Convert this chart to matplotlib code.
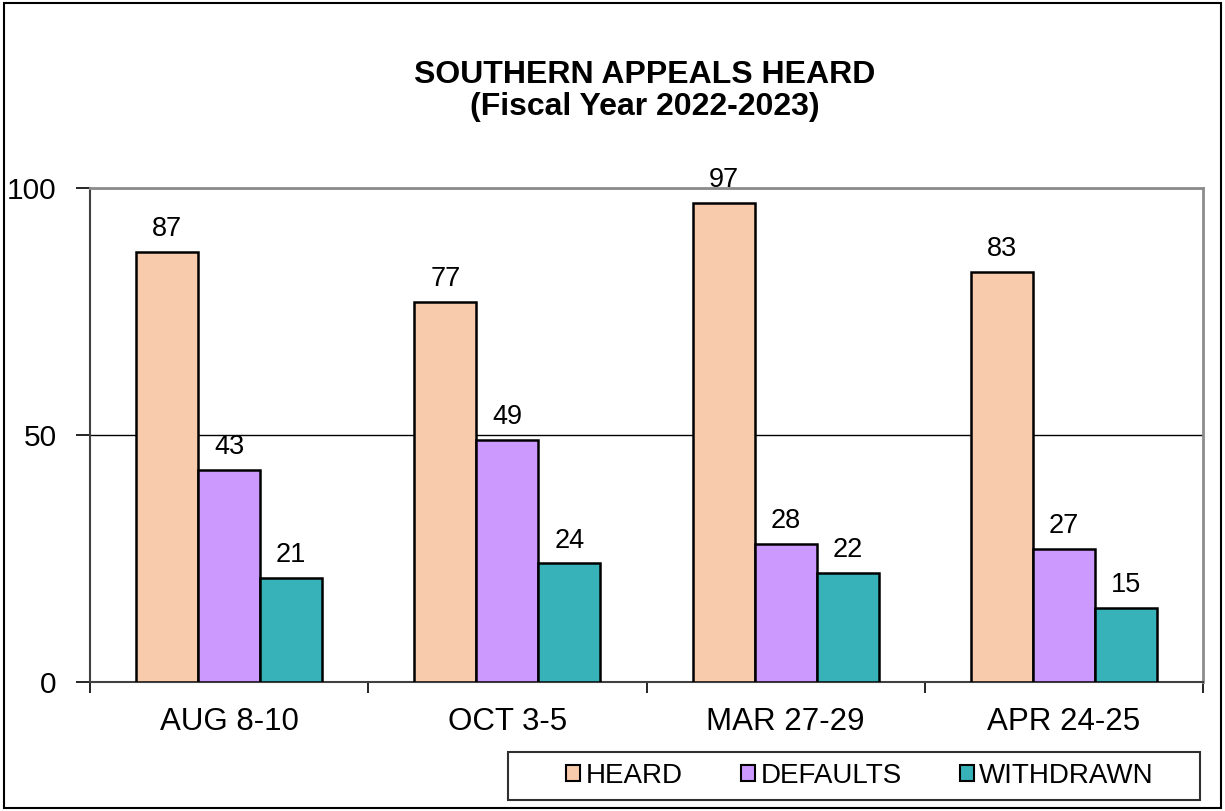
import matplotlib.pyplot as plt
import numpy as np
from matplotlib.patches import Rectangle

plt.rcParams['font.family'] = ['Liberation Sans', 'DejaVu Sans']

categories = ["AUG 8-10", "OCT 3-5", "MAR 27-29", "APR 24-25"]
heard = [87, 77, 97, 83]
defaults = [43, 49, 28, 27]
withdrawn = [21, 24, 22, 15]

series = [("HEARD", heard, "#F8CBAD"),
          ("DEFAULTS", defaults, "#CC99FF"),
          ("WITHDRAWN", withdrawn, "#38B2B9")]

W, H = 1225, 811
fig = plt.figure(figsize=(W / 100, H / 100), dpi=100)
ax = fig.add_axes([90 / W, 1 - 682 / H, (1203 - 90) / W, (682 - 188) / H])

# outer border
fig.patches.append(Rectangle((4 / W, 3 / H), 1 - 8 / W, 1 - 6 / H,
                             transform=fig.transFigure, fill=False,
                             edgecolor="black", linewidth=1.5))

x = np.arange(len(categories))
w = 0.223
for i, (name, vals, col) in enumerate(series):
    pos = x + (i - 1) * w
    bars = ax.bar(pos, vals, w, color=col, edgecolor="black", linewidth=1.8,
                  label=name, zorder=3)
    for b, v in zip(bars, vals):
        ax.text(b.get_x() + b.get_width() / 2, v + 2.0, str(v),
                ha="center", va="bottom", fontsize=19.5)

ax.set_xlim(-0.5, len(categories) - 0.5)
ax.set_ylim(0, 100)
ax.set_yticks([0, 50, 100])
ax.tick_params(axis="y", labelsize=21.5, length=10, width=1.2, pad=14, direction="out")
ax.set_xticks(np.arange(-0.5, len(categories), 1), minor=True)
ax.set_xticks(x)
ax.set_xticklabels(categories)
ax.tick_params(axis="x", which="major", length=0, labelsize=22.5, pad=18)
ax.tick_params(axis="x", which="minor", length=8, width=1.2, direction="out")
ax.grid(axis="y", color="black", linewidth=1, zorder=0)

ax.spines["left"].set_color("#404040")
ax.spines["left"].set_linewidth(1.5)
ax.spines["bottom"].set_color("#404040")
ax.spines["bottom"].set_linewidth(1.5)
for s in ["top", "right"]:
    ax.spines[s].set_color("#8c8c8c")
    ax.spines[s].set_linewidth(2)

fig.text(645 / W, 1 - 75 / H, "SOUTHERN APPEALS HEARD", ha="center", va="center",
         fontsize=23, fontweight="bold")
fig.text(645 / W, 1 - 107 / H, "(Fiscal Year 2022-2023)", ha="center", va="center",
         fontsize=23, fontweight="bold")

# legend box drawn separately, entries placed inside
fig.patches.append(Rectangle((508 / W, 1 - 800 / H), (1200 - 508) / W, 48 / H,
                             transform=fig.transFigure, fill=False,
                             edgecolor="#303030", linewidth=1.5))
leg = fig.legend(loc="center", bbox_to_anchor=(860 / W, 1 - 776 / H), ncol=3,
                 fontsize=20, frameon=False,
                 handlelength=0.5, handleheight=0.5, handletextpad=0.2,
                 columnspacing=2.1, borderpad=0.0)
for h in leg.legend_handles:
    h.set_linewidth(1.5)

plt.savefig("out.png", dpi=100)
